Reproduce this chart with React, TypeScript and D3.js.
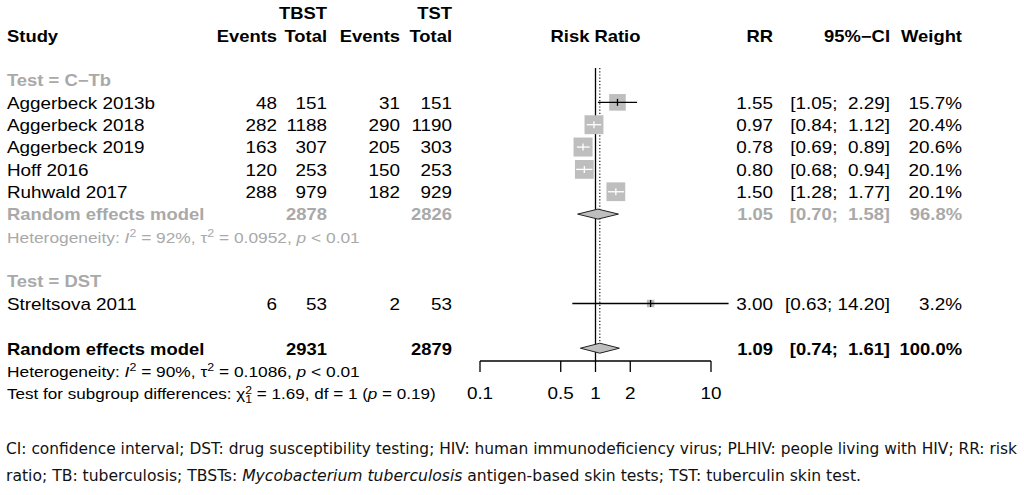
import React from "react";
import * as d3 from "d3";

// ---------- data ----------
const studies = ["Aggerbeck 2013b", "Aggerbeck 2018", "Aggerbeck 2019", "Hoff 2016", "Ruhwald 2017", "Streltsova 2011"];
const groups = ["C\u2212Tb", "C\u2212Tb", "C\u2212Tb", "C\u2212Tb", "C\u2212Tb", "DST"];
const eventsE = [48, 282, 163, 120, 288, 6];
const totalE = [151, 1188, 307, 253, 979, 53];
const eventsC = [31, 290, 205, 150, 182, 2];
const totalC = [151, 1190, 303, 253, 929, 53];
const rr = [1.55, 0.97, 0.78, 0.8, 1.5, 3.0];
const lower = [1.05, 0.84, 0.69, 0.68, 1.28, 0.63];
const upper = [2.29, 1.12, 0.89, 0.94, 1.77, 14.2];
const weights = [15.7, 20.4, 20.6, 20.1, 20.1, 3.2];

// subgroup summary (C-Tb)
const subTotals = [2878, 2826];
const subEst = [1.05, 0.7, 1.58];
const subWeight = 96.8;
// overall
const allTotals = [2931, 2879];
const allEst = [1.09, 0.74, 1.61];
const allWeight = 100.0;

const tickValues = [0.1, 0.5, 1, 2, 10];
const tickLabels = ["0.1", "0.5", "1", "2", "10"];

const footnote1 = "CI: confidence interval; DST: drug susceptibility testing; HIV: human immunodeficiency virus; PLHIV: people living with HIV; RR: risk";

// ---------- layout ----------
const SXB = 1.15;
const SXR = 1.18;
const FONT = "'Liberation Sans', Arial, Helvetica, sans-serif";
const GRAY = "#a9a9a9";
const rowY = (i: number) => 35.3 + i * 22.35;
const BASE = 6.3;
const col = { study: 7, evE: 277, totE: 327, evC: 400, totC: 452, rr: 773, ci: 890, w: 962 };

const x = d3.scaleLog().domain([0.1, 10]).range([480, 711]);

function T(props: any) {
  const { x, y, anchor = "start", bold = false, fill = "#000", size = 16, children } = props;
  const sx = bold ? SXB : SXR;
  return (
    <text
      transform={`translate(${x},${y}) scale(${sx},1)`}
      textAnchor={anchor}
      fontWeight={bold ? "bold" : "normal"}
      fill={fill}
      fontSize={size}
      fontFamily={FONT}
      style={{ whiteSpace: "pre" }}
    >
      {children}
    </text>
  );
}

const ciStr = (lo: number, hi: number) => `[${lo.toFixed(2)}; ${hi.toFixed(2).padStart(5, " ")}]`;

function Row(props: any) {
  const { i, label, c1, c2, c3, c4, est, lo, hi, w, bold = false, fill = "#000" } = props;
  const y = rowY(i) + BASE;
  return (
    <g>
      <T x={col.study} y={y} bold={bold} fill={fill}>{label}</T>
      {c1 !== undefined && <T x={col.evE} y={y} anchor="end" bold={bold} fill={fill}>{c1}</T>}
      {c2 !== undefined && <T x={col.totE} y={y} anchor="end" bold={bold} fill={fill}>{c2}</T>}
      {c3 !== undefined && <T x={col.evC} y={y} anchor="end" bold={bold} fill={fill}>{c3}</T>}
      {c4 !== undefined && <T x={col.totC} y={y} anchor="end" bold={bold} fill={fill}>{c4}</T>}
      {est !== undefined && <T x={col.rr} y={y} anchor="end" bold={bold} fill={fill}>{est.toFixed(2)}</T>}
      {lo !== undefined && <T x={col.ci} y={y} anchor="end" bold={bold} fill={fill}>{ciStr(lo, hi)}</T>}
      {w !== undefined && <T x={col.w} y={y} anchor="end" bold={bold} fill={fill}>{w.toFixed(1) + "%"}</T>}
    </g>
  );
}

function Het(props: any) {
  const { y, fill, i2, tau2, p } = props;
  return (
    <text transform={`translate(${col.study},${y}) scale(1.24,1)`} fill={fill} fontSize={14} fontFamily={FONT} style={{ whiteSpace: "pre" }}>
      <tspan>Heterogeneity: </tspan>
      <tspan fontStyle="italic">I</tspan>
      <tspan fontSize={10} dy={-5.5}>2</tspan>
      <tspan dy={5.5}>{` = ${i2}, \u03C4`}</tspan>
      <tspan fontSize={10} dy={-5.5}>2</tspan>
      <tspan dy={5.5}>{` = ${tau2}, `}</tspan>
      <tspan fontStyle="italic">p</tspan>
      <tspan>{` < ${p}`}</tspan>
    </text>
  );
}

function Square(props: any) {
  const { est, lo, hi, w, y } = props;
  const s = 4.19 * Math.sqrt(w);
  const cx = x(est);
  const inside = x(lo) >= cx - s / 2 && x(hi) <= cx + s / 2;
  const lc = inside ? "#fff" : "#000";
  return (
    <g>
      <rect x={cx - s / 2} y={y - s / 2} width={s} height={s} fill="#bebebe" />
      <line x1={x(lo)} x2={x(hi)} y1={y} y2={y} stroke={lc} strokeWidth={1.3} />
      <line x1={cx} x2={cx} y1={y - 3.5} y2={y + 3.5} stroke={lc} strokeWidth={1.3} />
    </g>
  );
}

function Diamond(props: any) {
  const { est, lo, hi, y } = props;
  const h = 5;
  const pts = [[x(lo), y], [x(est), y - h], [x(hi), y], [x(est), y + h]].map((p) => p.join(",")).join(" ");
  return <polygon points={pts} fill="#bebebe" stroke="#222" strokeWidth={1} />;
}

export default function App() {
  const studyRows = [3, 4, 5, 6, 7, 12];
  const axisY = 361;
  return (
    <svg width={1024} height={495} style={{ position: "absolute", left: 0, top: 0, background: "#fff" }}>
      <rect width={1024} height={495} fill="#fff" />
      {/* header */}
      <T x={col.totE} y={rowY(-1) + BASE} anchor="end" bold>TBST</T>
      <T x={col.totC} y={rowY(-1) + BASE} anchor="end" bold>TST</T>
      <T x={col.study} y={rowY(0) + BASE} bold>Study</T>
      <T x={col.evE} y={rowY(0) + BASE} anchor="end" bold>Events</T>
      <T x={col.totE} y={rowY(0) + BASE} anchor="end" bold>Total</T>
      <T x={col.evC} y={rowY(0) + BASE} anchor="end" bold>Events</T>
      <T x={col.totC} y={rowY(0) + BASE} anchor="end" bold>Total</T>
      <T x={x(1)} y={rowY(0) + BASE} anchor="middle" bold>Risk Ratio</T>
      <T x={col.rr} y={rowY(0) + BASE} anchor="end" bold>RR</T>
      <T x={col.ci} y={rowY(0) + BASE} anchor="end" bold>{"95%\u2212CI"}</T>
      <T x={col.w} y={rowY(0) + BASE} anchor="end" bold>Weight</T>

      {/* subgroup labels */}
      <T x={col.study} y={rowY(2) + BASE} bold fill={GRAY}>{`Test = ${groups[0]}`}</T>
      <T x={col.study} y={rowY(11) + BASE} bold fill={GRAY}>{`Test = ${groups[5]}`}</T>

      {studies.map((s, k) => (
        <Row key={s} i={studyRows[k]} label={s} c1={eventsE[k]} c2={totalE[k]} c3={eventsC[k]} c4={totalC[k]} est={rr[k]} lo={lower[k]} hi={upper[k]} w={weights[k]} />
      ))}

      <Row i={8} label="Random effects model" bold fill={GRAY} c2={subTotals[0]} c4={subTotals[1]} est={subEst[0]} lo={subEst[1]} hi={subEst[2]} w={subWeight} />
      <Het y={rowY(9) + BASE} fill={GRAY} i2="92%" tau2="0.0952" p="0.01" />

      <Row i={14} label="Random effects model" bold c2={allTotals[0]} c4={allTotals[1]} est={allEst[0]} lo={allEst[1]} hi={allEst[2]} w={allWeight} />
      <Het y={rowY(15) + BASE} fill="#000" i2="90%" tau2="0.1086" p="0.01" />
      <text transform={`translate(${col.study},${rowY(16) + BASE}) scale(1.22,1)`} fill="#000" fontSize={14} fontFamily={FONT} style={{ whiteSpace: "pre" }}>
        <tspan>{"Test for subgroup differences: \u03C7"}</tspan>
        <tspan fontSize={10} dy={-5.5}>2</tspan>
        <tspan fontSize={10} dx={-5.6} dy={9}>1</tspan>
        <tspan dy={-3.5}>{" = 1.69, df = 1 ("}</tspan>
        <tspan fontStyle="italic">p</tspan>
        <tspan>{" = 0.19)"}</tspan>
      </text>

      {/* reference lines */}
      <line x1={x(1)} x2={x(1)} y1={68} y2={axisY} stroke="#000" strokeWidth={1.3} />
      <line x1={x(allEst[0])} x2={x(allEst[0])} y1={68} y2={rowY(14) - 5} stroke="#000" strokeWidth={1.1} strokeDasharray="1.2,2" />

      {studies.map((s, k) => (
        <Square key={s} est={rr[k]} lo={lower[k]} hi={upper[k]} w={weights[k]} y={rowY(studyRows[k])} />
      ))}
      <Diamond est={subEst[0]} lo={subEst[1]} hi={subEst[2]} y={rowY(8)} />
      <Diamond est={allEst[0]} lo={allEst[1]} hi={allEst[2]} y={rowY(14)} />

      {/* axis */}
      <line x1={x(0.1)} x2={x(10)} y1={axisY} y2={axisY} stroke="#000" strokeWidth={1.3} />
      {tickValues.map((t, k) => (
        <g key={t}>
          <line x1={x(t)} x2={x(t)} y1={axisY} y2={axisY + 11} stroke="#000" strokeWidth={1.3} />
          <T x={x(t)} y={rowY(16) + BASE} anchor="middle">{tickLabels[k]}</T>
        </g>
      ))}

      {/* footnote */}
      <text x={6} y={454} fontSize={15} fontFamily="'Liberation Sans Narrow', 'DejaVu Sans Condensed', sans-serif" fill="#111" textLength={1011} lengthAdjust="spacingAndGlyphs">
        {footnote1}
      </text>
      <text x={6} y={481} fontSize={15} fontFamily="'Liberation Sans Narrow', 'DejaVu Sans Condensed', sans-serif" fill="#111" textLength={855} lengthAdjust="spacingAndGlyphs">
        <tspan>ratio; TB: tuberculosis; TBSTs: </tspan>
        <tspan fontStyle="italic">Mycobacterium tuberculosis</tspan>
        <tspan> antigen-based skin tests; TST: tuberculin skin test.</tspan>
      </text>
    </svg>
  );
}
